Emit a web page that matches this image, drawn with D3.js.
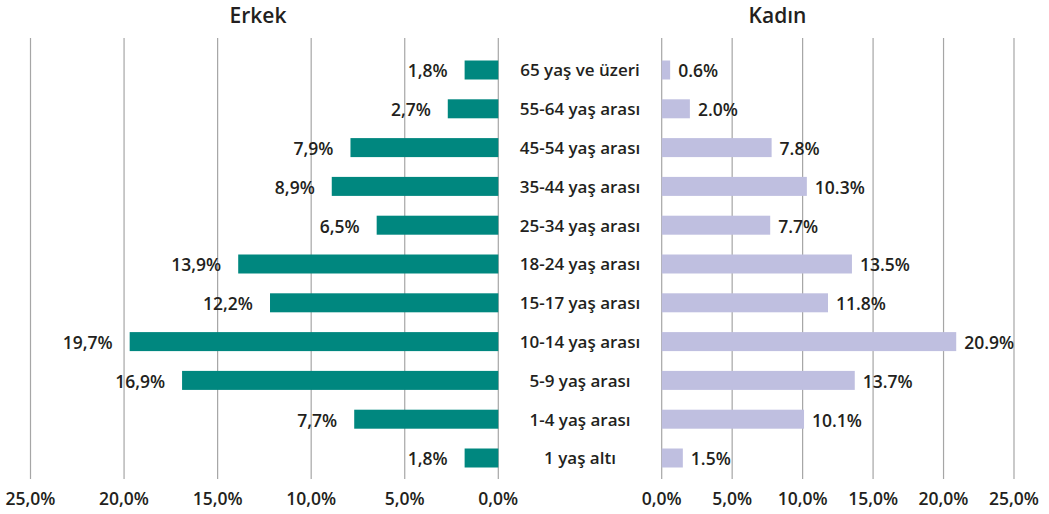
<!DOCTYPE html>
<html><head><meta charset="utf-8">
<script src="https://cdn.jsdelivr.net/npm/d3@7"></script>
<style>
body{margin:0;background:#fff;}
text{font-family:"Open Sans",sans-serif;fill:#231f20;}
</style></head>
<body><svg id="c" width="1049" height="514"></svg>
<script>
const categories=["65 yaş ve üzeri","55-64 yaş arası","45-54 yaş arası","35-44 yaş arası","25-34 yaş arası","18-24 yaş arası","15-17 yaş arası","10-14 yaş arası","5-9 yaş arası","1-4 yaş arası","1 yaş altı"];
const erkek=[1.8,2.7,7.9,8.9,6.5,13.9,12.2,19.7,16.9,7.7,1.8];
const kadin=[0.6,2.0,7.8,10.3,7.7,13.5,11.8,20.9,13.7,10.1,1.5];
const ticks=[0,5,10,15,20,25];
const titles=["Erkek","Kadın"];

const svg=d3.select("#c");
const y=d3.scalePoint().domain(categories).range([70,458]);
const xL=d3.scaleLinear().domain([0,25]).range([498.3,30.5]);
const xR=d3.scaleLinear().domain([0,25]).range([661.7,1014]);
const barH=19, gTop=38, gBot=479;
const fmtL=d=>d3.format(".1f")(d).replace(".",",")+"%";
const fmtR=d=>d3.format(".1f")(d)+"%";

// gridlines
[xL,xR].forEach(x=>{
  svg.append("g").selectAll("line").data(ticks).join("line")
    .attr("x1",d=>x(d)).attr("x2",d=>x(d)).attr("y1",gTop).attr("y2",gBot)
    .attr("stroke","#a6a6a6").attr("stroke-width",1.2);
  svg.append("g").selectAll("text").data(ticks).join("text")
    .attr("x",d=>x(d)).attr("y",505).attr("text-anchor","middle")
    .attr("font-size",17.5).attr("font-weight",600).text(fmtL);
});

// bars
svg.append("g").selectAll("rect").data(erkek).join("rect")
  .attr("x",d=>xL(d)).attr("width",d=>xL(0)-xL(d))
  .attr("y",(d,i)=>y(categories[i])-barH/2).attr("height",barH).attr("fill","#00877f");
svg.append("g").selectAll("rect").data(kadin).join("rect")
  .attr("x",xR(0)).attr("width",d=>xR(d)-xR(0))
  .attr("y",(d,i)=>y(categories[i])-barH/2).attr("height",barH).attr("fill","#bfbfe0");

// value labels
svg.append("g").selectAll("text").data(erkek).join("text")
  .attr("x",d=>xL(d)-17).attr("y",(d,i)=>y(categories[i])).attr("dy","0.42em")
  .attr("text-anchor","end").attr("font-size",17.5).attr("font-weight",600).text(fmtL);
svg.append("g").selectAll("text").data(kadin).join("text")
  .attr("x",d=>xR(d)+8).attr("y",(d,i)=>y(categories[i])).attr("dy","0.42em")
  .attr("text-anchor","start").attr("font-size",17.5).attr("font-weight",600).text(fmtR);

// categories
svg.append("g").selectAll("text").data(categories).join("text")
  .attr("x",580).attr("y",d=>y(d)).attr("dy","0.38em")
  .attr("text-anchor","middle").attr("font-size",17).attr("font-weight",600).text(d=>d);

// titles
svg.append("g").selectAll("text").data(titles).join("text")
  .attr("x",(d,i)=>i?777.5:258).attr("y",23).attr("text-anchor","middle")
  .attr("font-size",21).attr("font-weight",600).text(d=>d);
</script></body></html>
